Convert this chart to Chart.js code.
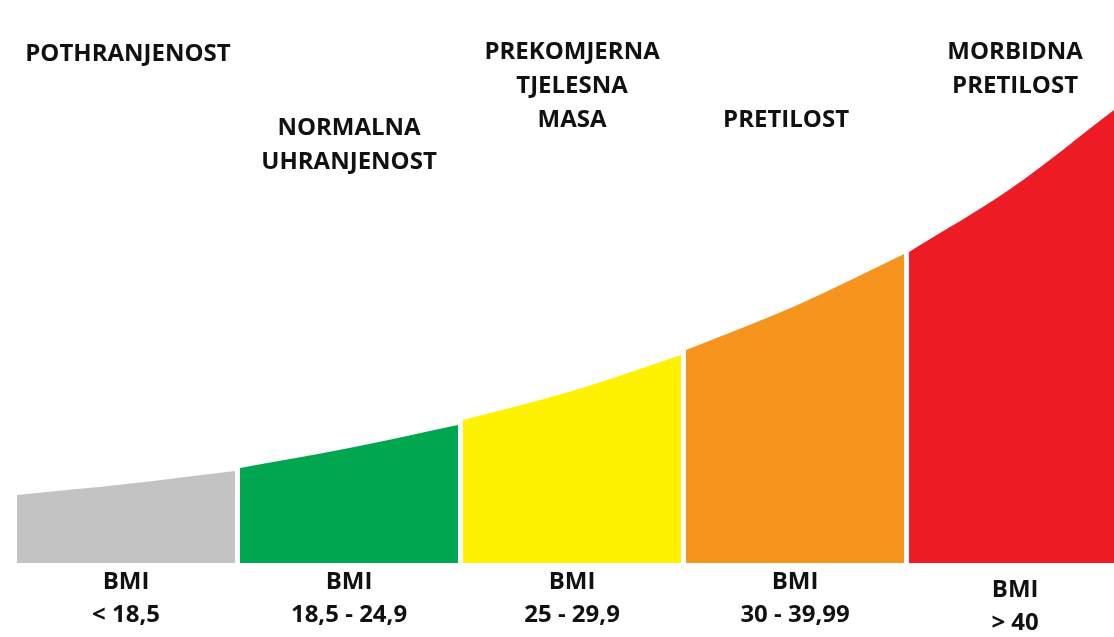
<!DOCTYPE html>
<html>
<head>
<meta charset="utf-8">
<script src="https://cdn.jsdelivr.net/npm/chart.js@4/dist/chart.umd.min.js"></script>
<style>
  html, body { margin: 0; padding: 0; background: #fff; }
  #bmi { display: block; }
</style>
</head>
<body>
<canvas id="bmi" width="1114" height="637"></canvas>
<script>
// categories and BMI ranges
const categories = [
  ['POTHRANJENOST'],
  ['NORMALNA', 'UHRANJENOST'],
  ['PREKOMJERNA', 'TJELESNA', 'MASA'],
  ['PRETILOST'],
  ['MORBIDNA', 'PRETILOST']
];
const bmiRanges = ['< 18,5', '18,5 - 24,9', '25 - 29,9', '30 - 39,99', '> 40'];

// curve height along each band (start, middle, end)
const bandSteps = [0, 0.49, 0.978];
const redSteps = [0, 0.46, 0.919];
const pothranjenost = [68, 79, 92];
const normalna = [95, 115, 138];
const prekomjerna = [143, 172, 208];
const pretilost = [213, 257, 309];
const morbidna = [311, 375, 453];

const colors = ['#c3c3c3', '#00a650', '#fff200', '#f7941d', '#ed1c24'];

function band(i, heights, steps) {
  return heights.map((h, k) => ({ x: i + steps[k], y: h }));
}

const bands = [pothranjenost, normalna, prekomjerna, pretilost, morbidna];

const labelPlugin = {
  id: 'labels',
  afterDraw(chart) {
    const ctx = chart.ctx;
    const x = chart.scales.x;
    const topY = [54, 128, 52, 120, 52];
    const shiftX = [2, 0, 0, -9, -3];
    ctx.save();
    ctx.fillStyle = '#111';
    ctx.textAlign = 'center';
    ctx.textBaseline = 'middle';
    ctx.font = 'bold 24px "Open Sans"';
    categories.forEach((lines, i) => {
      const cx = x.getPixelForValue(i + 0.489) + shiftX[i];
      lines.forEach((t, j) => ctx.fillText(t, cx, topY[i] + j * 34));
    });
    bmiRanges.forEach((r, i) => {
      const cx = x.getPixelForValue(i + 0.489) + (i === 4 ? -3 : 0);
      const dy = i === 4 ? 8 : 0;
      ctx.fillText('BMI', cx, 582 + dy);
      ctx.fillText(r, cx, 615 + dy);
    });
    ctx.restore();
  }
};

new Chart(document.getElementById('bmi'), {
  type: 'line',
  data: {
    datasets: bands.map((h, i) => ({
      data: band(i, h, i === 4 ? redSteps : bandSteps),
      backgroundColor: colors[i],
      borderWidth: 0,
      pointRadius: 0,
      fill: 'origin',
      cubicInterpolationMode: 'monotone'
    }))
  },
  options: {
    responsive: false,
    animation: false,
    layout: { padding: { bottom: 74 } },
    plugins: { legend: { display: false }, tooltip: { enabled: false } },
    scales: {
      x: { type: 'linear', min: -0.076, max: 4.919, display: false },
      y: { min: 0, max: 563, display: false }
    }
  },
  plugins: [labelPlugin]
});
</script>
</body>
</html>
